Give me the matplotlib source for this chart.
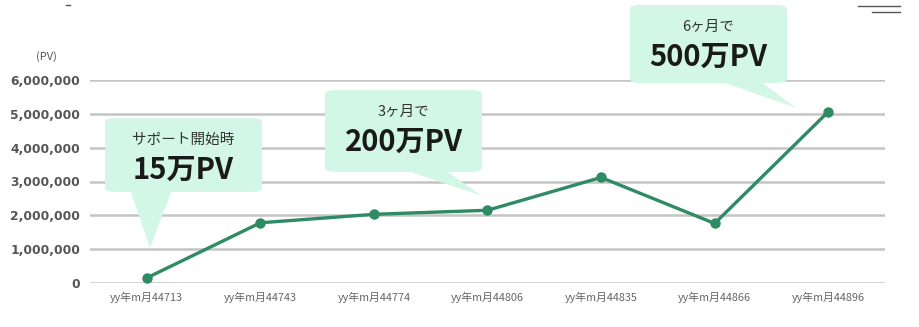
import matplotlib.pyplot as plt
from matplotlib.patches import FancyBboxPatch, Polygon

plt.rcParams['font.family'] = ['Noto Sans CJK JP', 'DejaVu Sans']

# Data
labels = ['yy年m月44713', 'yy年m月44743', 'yy年m月44774', 'yy年m月44806',
          'yy年m月44835', 'yy年m月44866', 'yy年m月44896']
pv = [150000, 1780000, 2030000, 2150000, 3120000, 1760000, 5060000]
yticks = [0, 1000000, 2000000, 3000000, 4000000, 5000000, 6000000]

# Callouts: (small text, big text, box px [x0, y0, x1, y1], tail px [base_a, base_b, tip])
callouts = [
    ('サポート開始時', '15万PV', (105, 118, 262, 192), ((130, 190), (172, 190), (150, 248))),
    ('3ヶ月で', '200万PV', (325, 90, 482, 172), ((405, 170), (445, 170), (482, 196))),
    ('6ヶ月で', '500万PV', (630, 5, 787, 83), ((720, 81), (760, 81), (796, 108))),
]

W, H = 920, 327
fig = plt.figure(figsize=(9.2, 3.27), dpi=100)
ax = fig.add_axes([90 / W, 1 - 283 / H, 795 / W, 203 / H])

x = list(range(len(pv)))
ax.plot(x, pv, color='#2e8b64', lw=2.4, marker='o', ms=6.5, zorder=3)

ax.set_xlim(-0.5, 6.5)
ax.set_ylim(0, 6000000)
ax.set_yticks(yticks)
ax.set_yticklabels([f'{v:,}' for v in yticks], fontsize=8.8, color='#555555',
                   fontweight='bold', family=['DejaVu Sans'])
ax.set_xticks(x)
ax.set_xticklabels(labels, fontsize=7.8, color='#666666')
ax.tick_params(axis='both', length=0)
ax.tick_params(axis='y', pad=7)
ax.tick_params(axis='x', pad=6)
ax.grid(axis='y', color='#c4c4c4', lw=1.8)
ax.set_axisbelow(True)
for s in ax.spines.values():
    s.set_visible(False)

fig.text(46 / W, 1 - 57 / H, '(PV)', fontsize=8, color='#555555', ha='center', va='center')


def fx(px):
    return px / W


def fy(py):
    return 1 - py / H


for small, big, (x0, y0, x1, y1), tail in callouts:
    box = FancyBboxPatch((fx(x0), fy(y1)), fx(x1 - x0), (y1 - y0) / H,
                         boxstyle='round,pad=0,rounding_size=0.012',
                         transform=fig.transFigure, fc='#d3f7e6', ec='none', zorder=5)
    fig.patches.append(box)
    tri = Polygon([(fx(px), fy(py)) for px, py in tail], closed=True,
                  transform=fig.transFigure, fc='#d3f7e6', ec='none', zorder=5)
    fig.patches.append(tri)
    cx = (x0 + x1) / 2
    fig.text(fx(cx), fy(y0 + 22), small, fontsize=10.5, color='#333333',
             ha='center', va='center', zorder=6)
    fig.text(fx(cx), fy(y0 + 52), big, fontsize=21, fontweight='bold', color='#1a1a1a',
             ha='center', va='center', zorder=6)

# small header marks
fig.lines.append(plt.Line2D([fx(858), fx(900)], [fy(6), fy(6)], transform=fig.transFigure,
                            color='#555555', lw=1))
fig.lines.append(plt.Line2D([fx(872), fx(900)], [fy(12), fy(12)], transform=fig.transFigure,
                            color='#555555', lw=1))
fig.lines.append(plt.Line2D([fx(66), fx(70)], [fy(5), fy(5)], transform=fig.transFigure,
                            color='#555555', lw=1))

fig.savefig('out.png', dpi=100)
